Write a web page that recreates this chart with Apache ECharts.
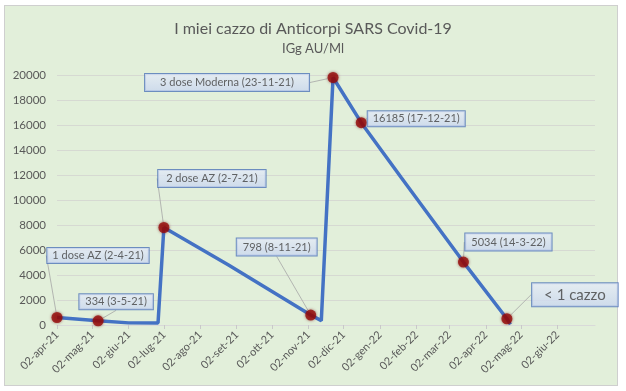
<!DOCTYPE html>
<html>
<head>
<meta charset="utf-8">
<script src="https://cdn.jsdelivr.net/npm/echarts@6/dist/echarts.min.js"></script>
<style>
  html, body { margin: 0; padding: 0; background: #ffffff; }
  #wrap { position: relative; width: 626px; height: 391px; }
  #frame { position: absolute; left: 4px; top: 5px; width: 612px; height: 379px; background: #E2EFDA; border: 1px solid #cfcfcf; }
  #chart { position: absolute; left: 0; top: 0; width: 626px; height: 391px; }
</style>
</head>
<body>
<div id="wrap"><div id="frame"></div><div id="chart"></div></div>
<script>
// ---- data ----
const dates  = ['2021-04-02','2021-05-07','2021-06-02','2021-06-27','2021-07-02','2021-08-26','2021-11-04','2021-11-13','2021-11-23','2021-12-17','2022-01-20','2022-03-14','2022-04-20','2022-04-23'];
const values = [600, 334, 170, 160, 7800, 4800, 798, 350, 19800, 16185, 11800, 5034, 500, 50];

const calloutIndex = [0, 1, 4, 6, 8, 9, 11, 12];
const calloutText  = ['1 dose AZ (2-4-21)', '334 (3-5-21)', '2 dose AZ (2-7-21)', '798 (8-11-21)', '3 dose Moderna (23-11-21)', '16185 (17-12-21)', '5034 (14-3-22)', '< 1 cazzo'];

const tickDates  = ['2021-04-02','2021-05-02','2021-06-02','2021-07-02','2021-08-02','2021-09-02','2021-10-02','2021-11-02','2021-12-02','2022-01-02','2022-02-02','2022-03-02','2022-04-02','2022-05-02','2022-06-02'];
const tickLabels = ['02-apr-21','02-mag-21','02-giu-21','02-lug-21','02-ago-21','02-set-21','02-ott-21','02-nov-21','02-dic-21','02-gen-22','02-feb-22','02-mar-22','02-apr-22','02-mag-22','02-giu-22'];

const yTicks = { min: 0, max: 20000, interval: 2000 };
const xRange = { min: '2021-04-02', max: '2022-07-04' };

// ---- annotation placement (label offsets from marker, px) ----
const calloutOffset = [[41,-62],[18,-19],[48,-49],[-34,-68],[-106,5],[55,-4],[45,-20],[68,-24]];
const calloutPad = [[2,5],[2,6],[3,8],[3,6],[3,15],[2,5],[3,6],[4,12]];
const calloutFont = [11,11,11,11,11,11,11,15];

function ts(s) { const p = s.split('-').map(Number); return Date.UTC(p[0], p[1]-1, p[2]); }

const tickTs = tickDates.map(ts);
const labelMap = {};
tickTs.forEach((t, i) => { labelMap[t] = tickLabels[i]; });

const lineData = dates.map((d, i) => [ts(d), values[i]]);
const boxFill = new echarts.graphic.LinearGradient(0, 0, 0, 1, [
  { offset: 0, color: '#e6ecf7' }, { offset: 1, color: '#c8d5ee' }
]);
const calloutData = calloutIndex.map((idx, k) => ({
  value: [ts(dates[idx]), values[idx]],
  label: {
    formatter: calloutText[k],
    padding: calloutPad[k],
    fontSize: calloutFont[k]
  }
}));

const chart = echarts.init(document.getElementById('chart'), null, { renderer: 'canvas' });
chart.setOption({
  backgroundColor: 'transparent',
  animation: false,
  textStyle: { fontFamily: 'Lato, "Open Sans", sans-serif' },
  title: {
    text: 'I miei cazzo di Anticorpi SARS Covid-19',
    subtext: 'IGg AU/Ml',
    left: 'center',
    top: 16,
    itemGap: 5,
    textStyle: { fontSize: 16, fontWeight: 'normal', color: '#595959', fontFamily: 'Lato, sans-serif' },
    subtextStyle: { fontSize: 13, color: '#595959', fontFamily: 'Lato, sans-serif' }
  },
  grid: { left: 57, right: 31, top: 75, bottom: 66 },
  xAxis: {
    type: 'value',
    min: ts(xRange.min),
    max: ts(xRange.max),
    axisLine: { show: true, lineStyle: { color: '#d9d9d9', width: 1 } },
    axisTick: { show: true, customValues: tickTs, length: 4, lineStyle: { color: '#c8c8c8' } },
    splitLine: { show: false },
    axisLabel: {
      customValues: tickTs,
      rotate: 45,
      fontSize: 11,
      color: '#595959',
      margin: 8,
      showMinLabel: true,
      showMaxLabel: true,
      formatter: v => labelMap[v] || ''
    }
  },
  yAxis: {
    type: 'value',
    min: yTicks.min,
    max: yTicks.max,
    interval: yTicks.interval,
    axisLine: { show: false },
    axisTick: { show: false },
    splitLine: { lineStyle: { color: '#d6d9d2', width: 1 } },
    axisLabel: { fontSize: 11.5, color: '#595959', margin: 11, formatter: v => String(v) }
  },
  series: [
    {
      type: 'line',
      data: lineData,
      showSymbol: false,
      symbol: 'none',
      lineStyle: { color: '#4472C4', width: 3.5 },
      z: 2
    },
    {
      type: 'scatter',
      data: calloutData,
      symbol: 'circle',
      symbolSize: 11,
      itemStyle: { color: '#960a0a', shadowBlur: 3, shadowColor: 'rgba(110,0,0,0.7)' },
      z: 3,
      label: {
        show: true,
        position: 'inside',
        color: '#404040',
        fontFamily: 'Lato, sans-serif',
        backgroundColor: boxFill,
        borderColor: '#4f74b8',
        borderWidth: 1
      },
      labelLine: { show: true, lineStyle: { color: '#a6a6a6', width: 0.8 } },
      labelLayout: function (params) {
        const k = params.dataIndex;
        return { dx: calloutOffset[k][0], dy: calloutOffset[k][1] };
      }
    }
  ]
});
</script>
</body>
</html>
